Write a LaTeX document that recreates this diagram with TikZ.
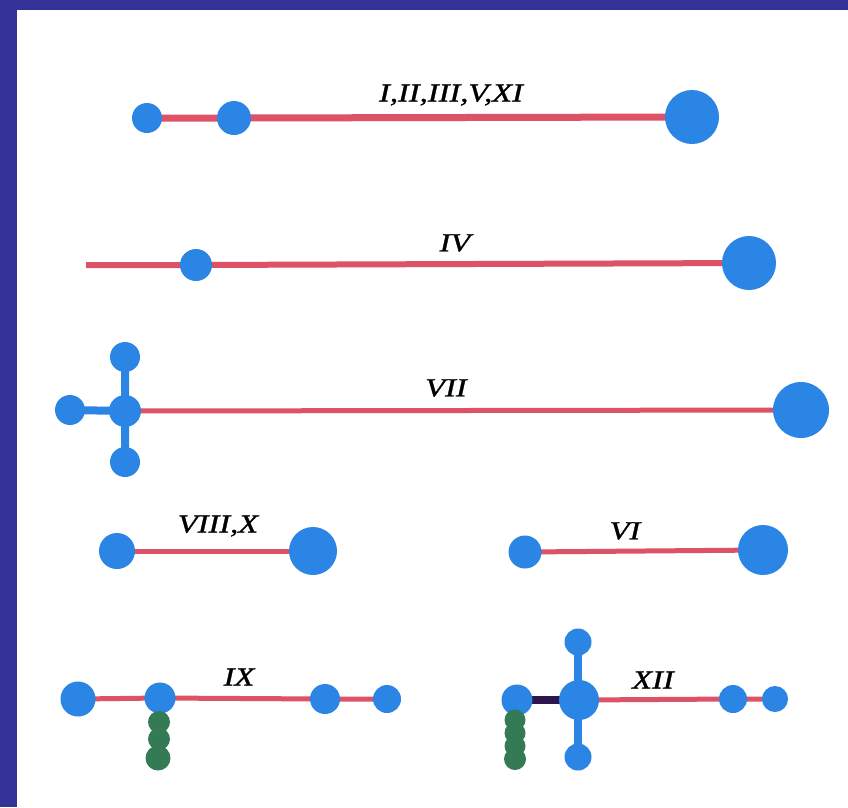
\documentclass[tikz,border=0pt]{standalone}
\usepackage{fontspec}
\newfontfamily\romfont[FakeStretch=1.25,FakeBold=1.2]{Liberation Serif}
\usetikzlibrary{backgrounds}

\definecolor{frameblue}{RGB}{51,51,153}
\definecolor{ballblue}{RGB}{42,133,228}
\definecolor{bondred}{RGB}{221,82,102}
\definecolor{bonddark}{RGB}{45,20,75}
\definecolor{beadgreen}{RGB}{52,122,84}

\tikzset{
  ball/.style={circle,fill=ballblue,inner sep=0pt,minimum size=#1},
  bead/.style={circle,fill=beadgreen,inner sep=0pt,minimum size=#1},
  bond/.style={draw=bondred,line width=#1},
  bond/.default=6pt,
  stub/.style={draw=ballblue,line width=8pt},
  tag/.style={font=\romfont\itshape\fontsize{26}{30}\selectfont,inner sep=0pt},
}

\begin{document}
\begin{tikzpicture}[x=1pt,y=-1pt]
  \useasboundingbox (0,0) rectangle (848,807);

  % blobs, name/x/y/diameter
  \foreach \n/\x/\y/\d in {a1/147/118/30,a2/234/118/34,a3/692/117/54,
                           b1/196/265/32,b2/749/263/54,
                           c0/125/411/32,cu/125/357/30,cl/70/410/30,cd/125/462/30,c4/801/410/56,
                           d1/117/551/36,d2/313/551/48,
                           e1/525/552/33,e2/763/550/50,
                           f1/78/699/35,f2/160/698/31,f3/325/699/30,f4/387/699/28,
                           g1/517/700/31,g0/579/700/40,gu/578/642/27,gd/578/757/27,g3/733/699/28,g4/775/699/26} {
    \node[ball=\d] (\n) at (\x,\y) {};
  }
  \foreach \n/\x/\y/\d in {h1/159/722/22,h2/159/739/22,h3/158/758/25,
                           k1/515/720/21,k2/515/733/21,k3/515/746/21,k4/515/759/22} {
    \node[bead=\d] (\n) at (\x,\y) {};
  }
  \coordinate (b0) at (86,265);

  \node[tag] (t1) at (451,95) {I,II,III,V,XI};
  \node[tag] (t2) at (455,243) {IV};
  \node[tag] (t3) at (446,388) {VII};
  \node[tag] (t4) at (218,526) {VIII,X};
  \node[tag] (t5) at (625,531) {VI};
  \node[tag] (t6) at (239,677) {IX};
  \node[tag] (t7) at (653,680) {XII};

  \begin{scope}[on background layer]
    \fill[white] (0,0) rectangle (848,807);
    \fill[frameblue] (0,0) rectangle (17,807);
    \fill[frameblue] (0,0) rectangle (848,10);

    \draw[bond=7pt] (a1.center) -- (a2.center) -- (a3.center);
    \draw[bond] (b0) -- (b1.center) -- (b2.center);
    \draw[stub] (cu.center) -- (cd.center) (cl.center) -- (c0.center);
    \draw[bond=5pt] (c0.center) -- (c4.center);
    \draw[bond=5pt] (d1.center) -- (d2.center);
    \draw[bond=5pt] (e1.center) -- (e2.center);
    \draw[bond=5pt] (f1.center) -- (f2.center) -- (f3.center) -- (f4.center);
    \draw[stub] (gu.center) -- (gd.center);
    \draw[draw=bonddark,line width=8pt] (g1.center) -- (g0.center);
    \draw[bond=5pt] (g0.center) -- (g3.center) -- (g4.center);
  \end{scope}
\end{tikzpicture}
\end{document}
